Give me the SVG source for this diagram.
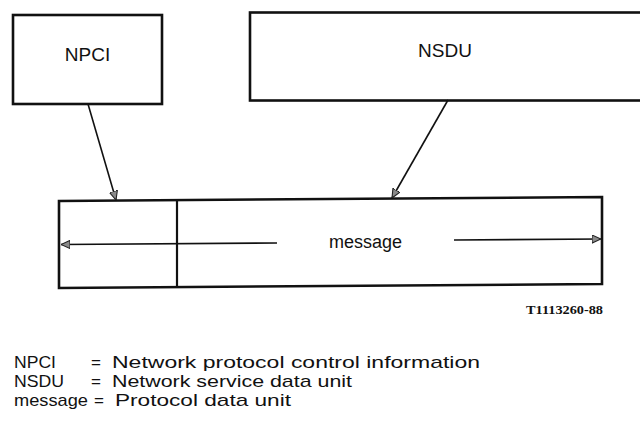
<svg xmlns="http://www.w3.org/2000/svg" width="640" height="426" viewBox="0 0 640 426">
<defs>
<style>
.box{fill:#fff;stroke:#111;stroke-width:2.6}
.div{stroke:#111;stroke-width:2.2}
.ln{stroke:#111;stroke-width:1.6;fill:none}
.lbl{font-family:"Liberation Sans",Arial,sans-serif;font-size:19px;fill:#111}
.leg{font-family:"Liberation Sans",Arial,sans-serif;font-size:17px;fill:#111}
.code{font-family:"Liberation Serif","Times New Roman",serif;font-size:13px;font-weight:bold;fill:#111}
</style>
<marker id="ah" viewBox="0 0 10 10" refX="10" refY="5" markerWidth="9" markerHeight="9" markerUnits="userSpaceOnUse" orient="auto">
<path d="M0,0.5 L10,5 L0,9.5 Z" fill="#8a8a8a" stroke="#222" stroke-width="1.2"/>
</marker>
</defs>
<rect width="640" height="426" fill="#fff"/>
<g id="npci">
<rect class="box" x="13" y="15" width="149" height="89"/>
<text class="lbl" x="87.5" y="61" text-anchor="middle">NPCI</text>
</g>
<g id="nsdu">
<rect class="box" x="250" y="12.5" width="394" height="88"/>
<text class="lbl" x="445" y="57" text-anchor="middle">NSDU</text>
</g>
<g id="message">
<polygon class="box" points="59,201 602,197 602,284 59,288"/>
<line class="div" x1="177" y1="200" x2="177" y2="287"/>
<text class="lbl" x="365.5" y="248" text-anchor="middle" style="font-size:18px">message</text>
</g>
<g id="connectors">
<line class="ln" x1="88" y1="104" x2="116" y2="200" marker-end="url(#ah)"/>
<line class="ln" x1="448" y1="100" x2="392" y2="198" marker-end="url(#ah)"/>
<line class="ln" x1="277" y1="243" x2="61" y2="244.5" marker-end="url(#ah)"/>
<line class="ln" x1="454" y1="240" x2="601" y2="239" marker-end="url(#ah)"/>
</g>
<text class="code" x="603" y="314" text-anchor="end" textLength="77" lengthAdjust="spacingAndGlyphs">T1113260-88</text>
<g id="legend">
<text class="leg" x="14" y="368" textLength="42" lengthAdjust="spacingAndGlyphs">NPCI</text>
<text class="leg" x="91" y="368">=</text>
<text class="leg" x="112" y="368" textLength="368" lengthAdjust="spacingAndGlyphs">Network protocol control information</text>
<text class="leg" x="14" y="387" textLength="50" lengthAdjust="spacingAndGlyphs">NSDU</text>
<text class="leg" x="91" y="387">=</text>
<text class="leg" x="112" y="387" textLength="240" lengthAdjust="spacingAndGlyphs">Network service data unit</text>
<text class="leg" x="14" y="406" textLength="74" lengthAdjust="spacingAndGlyphs">message</text>
<text class="leg" x="94" y="406">=</text>
<text class="leg" x="115" y="406" textLength="176" lengthAdjust="spacingAndGlyphs">Protocol data unit</text>
</g>
</svg>
